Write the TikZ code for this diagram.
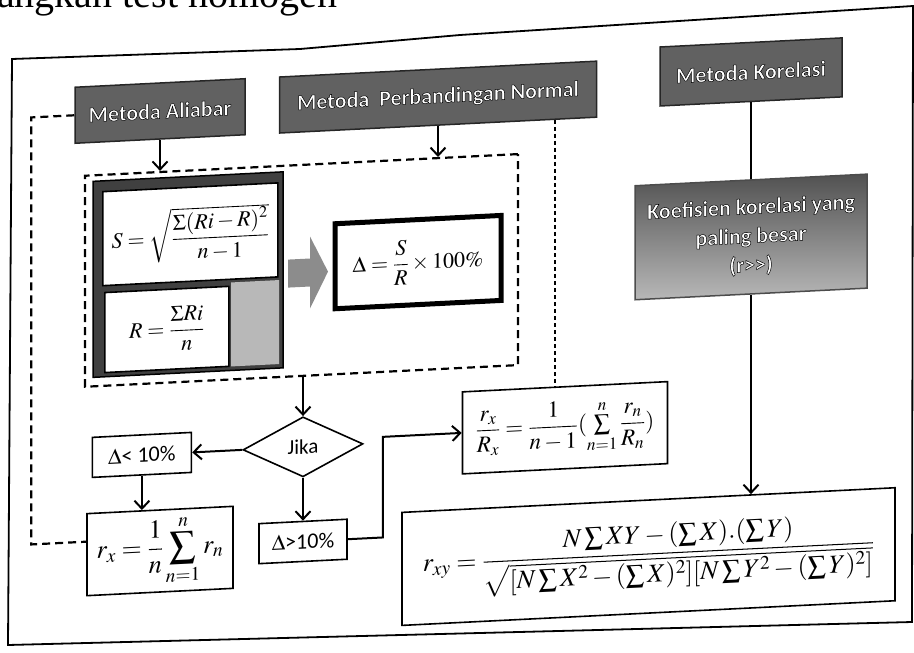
\RequirePackage{fix-cm}
\documentclass[tikz,border=0pt]{standalone}
\usepackage{mathptmx}
\usepackage{amsmath}
\usepackage{fontspec}
\setmainfont{Liberation Serif}
\newfontfamily\carl{Carlito}
\usetikzlibrary{arrows.meta,positioning,shapes.geometric,calc}
\newcommand\fml{\fontsize{22}{26}\selectfont}
% white letters with a dark rim (fill + stroke render mode)
\newcommand\hdtxt[1]{{\color{white}\special{pdf:literal direct 2 Tr 0 G 0.5 w}#1\special{pdf:literal direct 0 Tr}}}
\tikzset{
  hd/.style  ={draw=black!85,line width=1.5pt,fill=black!62,inner sep=2pt,
               font=\carl\bfseries\fontsize{22}{26}\selectfont,minimum height=56pt},
  kf/.style  ={draw=black!70,line width=1.5pt,top color=black!68,bottom color=black!28,
               align=center,font=\carl\bfseries\fontsize{22}{29}\selectfont},
  grp/.style ={draw,line width=2.2pt,dash pattern=on 8pt off 5pt},
  frm/.style ={draw,line width=1.5pt,fill=black!75},
  eq/.style  ={draw,line width=1.6pt,fill=white,inner sep=2pt,font=\fml},
  tx/.style  ={draw,line width=1.6pt,fill=white,inner sep=2pt,font=\carl\fontsize{22}{26}\selectfont},
  arr/.style ={-{Straight Barb[length=8pt,width=15pt]},line width=2pt},
  ln/.style  ={line width=2pt},
  dsh/.style ={line width=2.2pt,dash pattern=on 8pt off 5pt},
  dt/.style  ={line width=1.4pt,dash pattern=on 4pt off 3pt},
}
\begin{document}
\begin{tikzpicture}[x=1pt,y=-1pt]
  \useasboundingbox (0,0) rectangle (914,653);
  \clip (0,0) rectangle (914,653);
  % page line and frame
  \node[anchor=base west,inner sep=0pt,font=\fontsize{40}{44}\selectfont] (pg) at (-3,7) {angkan test homogen};
  \draw[line width=1.8pt] (12,59) -- (300,49) -- (460,35) -- (913,6) -- (912,622) -- (8,645) -- cycle;

  \begin{scope}[yslant=0.05,transform shape]
  % methods
  \node[hd,minimum width=170pt] (al) at (160,119) {\hdtxt{Metoda Aliabar}};
  \node[hd,minimum width=317pt,right=33pt of al] (pn) {\hdtxt{Metoda\ \ Perbandingan Normal}};
  \node[hd,minimum width=182pt,minimum height=59pt] (kr) at (751,109.5) {\hdtxt{Metoda Korelasi}};
  \node[kf,minimum width=232pt,minimum height=114pt,below=77pt of kr] (kc)
        {\hdtxt{Koefisien korelasi yang}\\ \hdtxt{paling besar}\\ \hdtxt{(r>>)}};

  % standard deviation block
  \node[grp,minimum width=433pt,minimum height=211pt] (gp) at (301.5,285.5) {};
  \node[frm,minimum width=190pt,minimum height=196pt] (fr) at (188,284) {};
  \fill[black!28] (231,294) rectangle (279,378);
  \node[eq,anchor=north west,minimum width=175pt,minimum height=94pt] (sd) at (102,196)
        {$S=\sqrt{\dfrac{\Sigma(Ri-R)^2}{n-1}}$};
  \node[eq,anchor=north west,minimum width=124pt,minimum height=80pt] (rm) at (104,297)
        {$R=\dfrac{\Sigma Ri}{n}$};
  \fill[black!45] (288,274) -- (310,274) -- (310,252) -- (328,288) -- (310,324) -- (310,302) -- (288,302) -- cycle;
  \node[eq,line width=5pt,minimum width=166pt,minimum height=85pt] (dp) at (418,283)
        {$\Delta=\dfrac{S}{R}\times100\%$};

  % decision
  \node[draw,diamond,line width=1.6pt,minimum width=120pt,minimum height=60pt,aspect=2,inner sep=0pt,
        font=\carl\fontsize{21}{24}\selectfont] (jk) at (303,462) {Jika};
  \node[tx,minimum width=99pt,minimum height=40pt,left=50pt of jk] (lt) {$\Delta$< 10\%};
  \node[tx,minimum width=88pt,minimum height=40pt,below=43pt of jk] (gt) {$\Delta$>10\%};
  \node[eq,font=\fontsize{26}{30}\selectfont,minimum width=146pt,minimum height=82pt] (rx) at (160,559)
        {$\displaystyle r_x=\frac{1}{n}\sum_{n=1}^{n}r_n$};
  \node[eq,font=\fontsize{23}{27}\selectfont,minimum width=205pt,minimum height=82pt] (rr) at (565,456)
        {$\dfrac{r_x}{R_x}=\dfrac{1}{n-1}(\sum\limits_{n=1}^{n}\dfrac{r_n}{R_n})$};
  \node[eq,font=\fontsize{26}{30}\selectfont,minimum width=493pt,minimum height=113pt] (rxy) at (648.5,589)
        {$r_{xy}=\dfrac{N\sum XY-(\sum X).(\sum Y)}{\sqrt{[N\sum X^2-(\sum X)^2][N\sum Y^2-(\sum Y)^2]}}$};

  % connectors
  \draw[arr] (al.south) -- ($(gp.north west)!(al.south)!(gp.north east)$);
  \draw[arr] (pn.south) -- ($(gp.north west)!(pn.south)!(gp.north east)$);
  \draw[arr] ($(gp.south west)!(jk.north)!(gp.south east)$) -- (jk.north);
  \draw[arr] (jk.west) -- (lt.east);
  \draw[arr] (lt.south) -- ($(rx.north west)!(lt.south)!(rx.north east)$);
  \draw[arr] (jk.south) -- (gt.north);
  \draw[arr] (gt.east) -- ++(35,0) |- (rr.west);
  \coordinate (rl) at ($(rx.west)+(0,-13)$);
  \draw[dsh] (al.west) -- ++(-43,0) |- (rl);
  \coordinate (rt) at ($(rr.north)+(-10,0)$);
  \draw[dt] ($(pn.south west)!(rt)!(pn.south east)$) -- (rt);
  \draw[ln] (kr.south) -- (kc.north);
  \draw[arr] (kc.south) -- ($(rxy.north west)!(kc.south)!(rxy.north east)$);
  \end{scope}
\end{tikzpicture}
\end{document}
